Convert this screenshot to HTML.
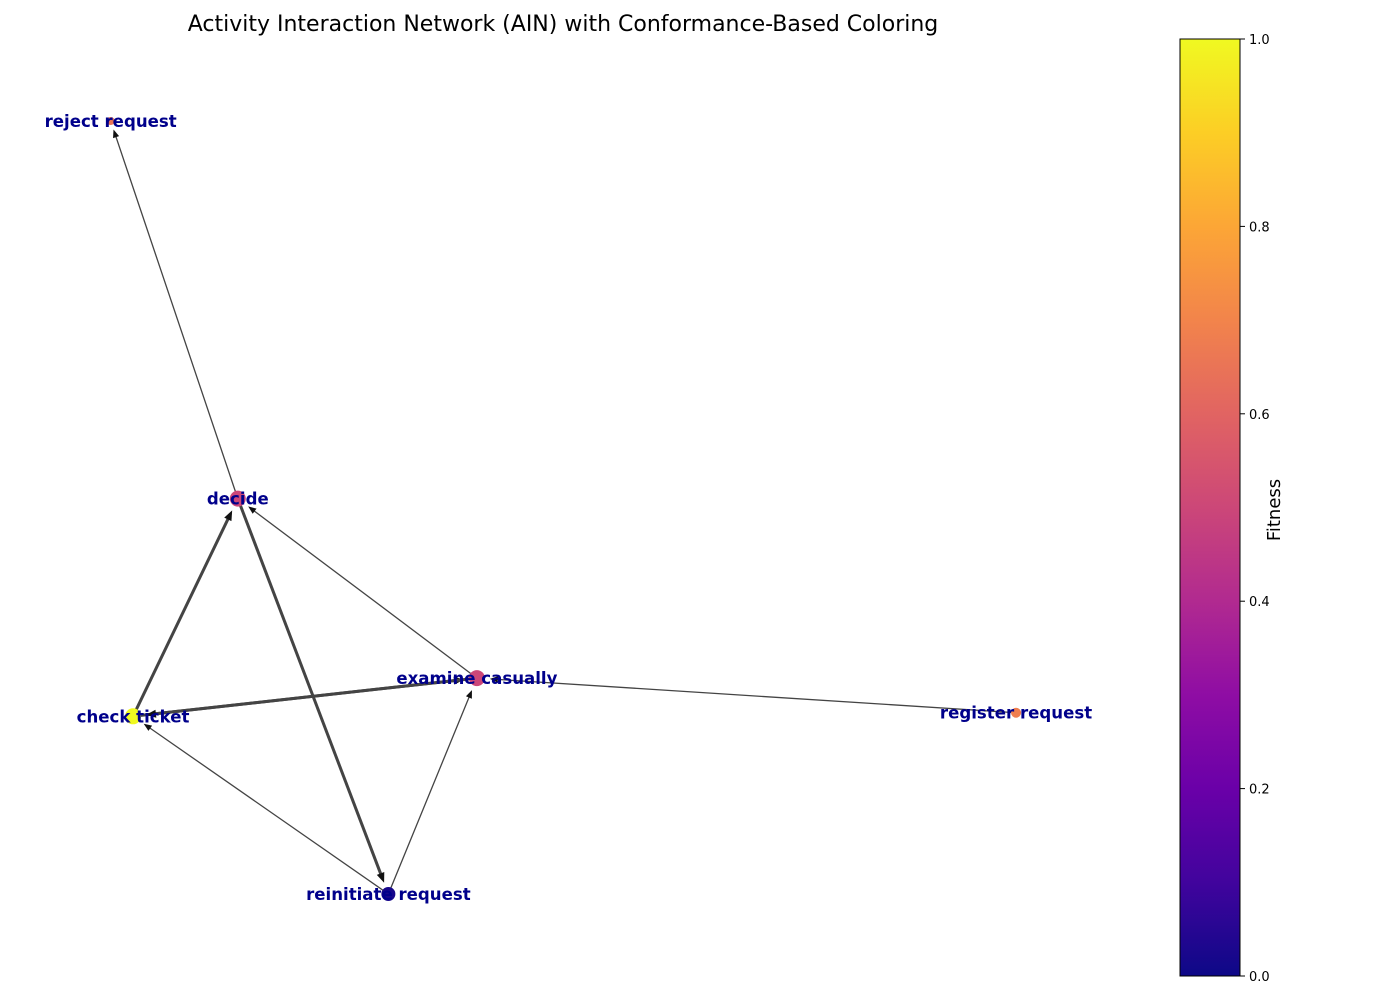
<!DOCTYPE html>
<html><head><meta charset="utf-8"><style>
body{margin:0;background:#fff}
svg{display:block;font-family:"DejaVu Sans","Liberation Sans",sans-serif}
</style></head><body>
<svg id="chart" width="1400" height="1000">
<defs>
<linearGradient id="plasma" x1="0" y1="1" x2="0" y2="0">
<stop offset="0" stop-color="#0d0887"/><stop offset="0.1" stop-color="#41049d"/><stop offset="0.2" stop-color="#6a00a8"/><stop offset="0.3" stop-color="#8f0da4"/><stop offset="0.4" stop-color="#b12a90"/><stop offset="0.5" stop-color="#cc4778"/><stop offset="0.6" stop-color="#e16462"/><stop offset="0.7" stop-color="#f2844b"/><stop offset="0.8" stop-color="#fca636"/><stop offset="0.9" stop-color="#fcce25"/><stop offset="1" stop-color="#f0f921"/>
</linearGradient>
</defs>
<text x="563" y="31" text-anchor="middle" font-size="22" fill="#000">Activity Interaction Network (AIN) with Conformance-Based Coloring</text>
<g id="edges"></g><g id="nodes"></g><g id="labels"></g>
<rect x="1180" y="39" width="60" height="937" fill="url(#plasma)" stroke="#000" stroke-width="1"/>
<g id="cbticks"></g>
<text transform="translate(1280,510) rotate(-90)" text-anchor="middle" font-size="18">Fitness</text>
</svg>
<script>
const nodeNames=["reject request","decide","examine casually","check ticket","reinitiate request","register request"];
const nodeX=[0.02,0.145,0.38,0.042,0.293,0.91];
const nodeY=[0.9,0.475,0.273,0.23,0.03,0.234];
const fitness=[0.65,0.5,0.5,1.0,0.02,0.68];
const nodeSize=[4,8,8,8,7,5];
const edgeFrom=[1,2,3,1,3,2,4,4,5];
const edgeTo=[0,1,1,4,2,3,3,2,2];
const edgeWeight=[1,1,2,2,2,2,1,1,1];
const cbTicks=[0,0.2,0.4,0.6,0.8,1.0];
const cbLabels=["0.0","0.2","0.4","0.6","0.8","1.0"];
const sx=v=>90.3+v*1017.3, sy=v=>894-(v-0.03)*(773/0.87);
const stops=[[13,8,135],[65,4,157],[106,0,168],[143,13,164],[177,42,144],[204,71,120],[225,100,98],[242,132,75],[252,166,54],[252,206,37],[240,249,33]];
function plasma(t){t=Math.max(0,Math.min(1,t))*10;const i=Math.min(9,Math.floor(t)),f=t-i;const a=stops[i],b=stops[i+1];return`rgb(${a.map((c,k)=>Math.round(c+(b[k]-c)*f)).join(',')})`;}
const NS="http://www.w3.org/2000/svg";
function mk(tag,attrs,parent){const e=document.createElementNS(NS,tag);for(const k in attrs)e.setAttribute(k,attrs[k]);parent.appendChild(e);return e;}
const eg=document.getElementById('edges'),ng=document.getElementById('nodes'),lg=document.getElementById('labels'),cg=document.getElementById('cbticks');
edgeFrom.forEach((f,i)=>{const t=edgeTo[i];const x1=sx(nodeX[f]),y1=sy(nodeY[f]),x2=sx(nodeX[t]),y2=sy(nodeY[t]);
const dx=x2-x1,dy=y2-y1,L=Math.hypot(dx,dy),ux=dx/L,uy=dy/L;const r=nodeSize[t]+5;const ex=x2-ux*r,ey=y2-uy*r;
const w=edgeWeight[i]==2?3:1.3;const col="#444";
const ln=mk('line',{x1:x1,y1:y1,x2:ex-ux*4,y2:ey-uy*4,stroke:col,'stroke-width':w},eg);


const hl=edgeWeight[i]==2?10:8,hw=edgeWeight[i]==2?4:3.2;const px=-uy,py=ux;const bx=ex-ux*hl,by=ey-uy*hl;
const ah=mk('polygon',{points:`${ex},${ey} ${bx+px*hw},${by+py*hw} ${bx-px*hw},${by-py*hw}`,fill:"#111"},eg);

});
nodeNames.forEach((n,i)=>{const c=mk('circle',{cx:sx(nodeX[i]),cy:sy(nodeY[i]),r:nodeSize[i],fill:plasma(fitness[i])},ng);


const t=mk('text',{x:sx(nodeX[i]),y:sy(nodeY[i])+6,'text-anchor':'middle','font-size':16.6,'font-weight':'bold',fill:'#00008b'},lg);t.textContent=n;

});
cbTicks.forEach((v,i)=>{const y=976-v*937;const l=mk('line',{x1:1240,y1:y,x2:1245,y2:y,stroke:'#000'},cg);


const t=mk('text',{x:1249,y:y+5,'font-size':13},cg);t.textContent=cbLabels[i];

});
</script>
</body></html>
